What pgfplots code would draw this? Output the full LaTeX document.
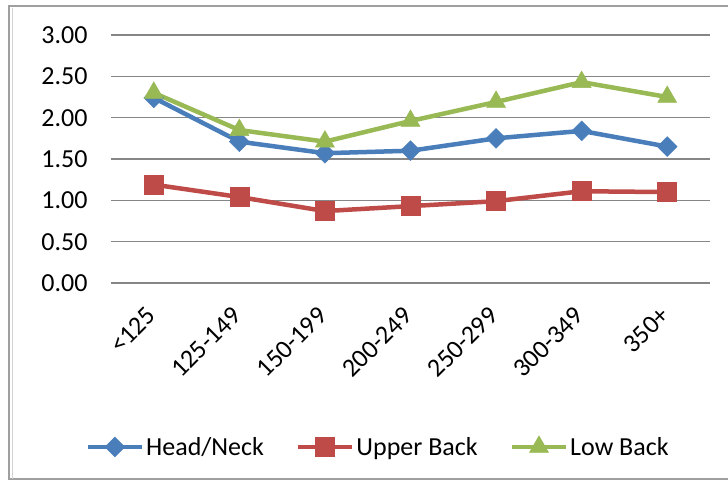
\documentclass[border=0pt]{standalone}
\usepackage{pgfplots}
\pgfplotsset{compat=1.18}
\usepackage{fontspec}
\setmainfont{Carlito}
\definecolor{hn}{HTML}{4A7EBB}
\definecolor{ub}{HTML}{BE4B48}
\definecolor{lb}{HTML}{98B954}
\definecolor{gridc}{HTML}{868686}
\begin{document}
\begin{tikzpicture}
\useasboundingbox (0,0) rectangle (728bp,482bp);
\fill[white] (0,0) rectangle (728bp,482bp);
\draw[gray!75, line width=2bp] (9bp,3bp) rectangle (760bp,476bp);
\draw[gray!35, line width=1bp] (12.5bp,3bp) -- (12.5bp,474bp);
\begin{axis}[
  at={(111bp,199bp)}, anchor=south west,
  scale only axis, width=599bp, height=248bp,
  xmin=-0.5, xmax=6.5, ymin=0, ymax=3,
  xtick={0,...,6},
  xticklabels={<125,125-149,150-199,200-249,250-299,300-349,350+},
  ytick={0,0.5,...,3},
  yticklabel style={/pgf/number format/.cd, fixed, fixed zerofill, precision=2},
  /pgf/number format/assume math mode=true,
  every tick label/.append style={font=\fontsize{26bp}{30bp}\selectfont},
  xticklabel style={rotate=45, anchor=east},
  xticklabel shift=26bp,
  yticklabel shift=20bp,
  axis line style={draw=none}, major tick length=0pt,
  ymajorgrids, grid style={gridc, line width=1.5bp},
  legend style={at={(0.446,-0.661)}, anchor=center, legend columns=3, draw=none, fill=none,
    font=\fontsize{26bp}{30bp}\selectfont,
    /tikz/every even column/.append style={column sep=30bp}},
  legend cell align=left,
  legend image code/.code={\draw[mark repeat=2,mark phase=2] plot coordinates {(0bp,0bp)(27bp,0bp)(54bp,0bp)};},
]
\addplot[hn, line width=4.5bp, mark=square*, mark size=7bp, mark options={rotate=45, line width=0.5bp}]
  coordinates {(0,2.24)(1,1.71)(2,1.57)(3,1.60)(4,1.75)(5,1.84)(6,1.65)};
\addlegendentry{Head/Neck}
\addplot[ub, line width=4.5bp, mark=square*, mark size=9.5bp, mark options={line width=0.5bp}]
  coordinates {(0,1.19)(1,1.04)(2,0.87)(3,0.93)(4,0.99)(5,1.11)(6,1.10)};
\addlegendentry{Upper Back}
\addplot[lb, line width=4.5bp, mark=triangle*, mark size=11bp, mark options={line width=0.5bp}]
  coordinates {(0,2.30)(1,1.85)(2,1.71)(3,1.96)(4,2.19)(5,2.43)(6,2.25)};
\addlegendentry{Low Back}
\end{axis}
\end{tikzpicture}
\end{document}
